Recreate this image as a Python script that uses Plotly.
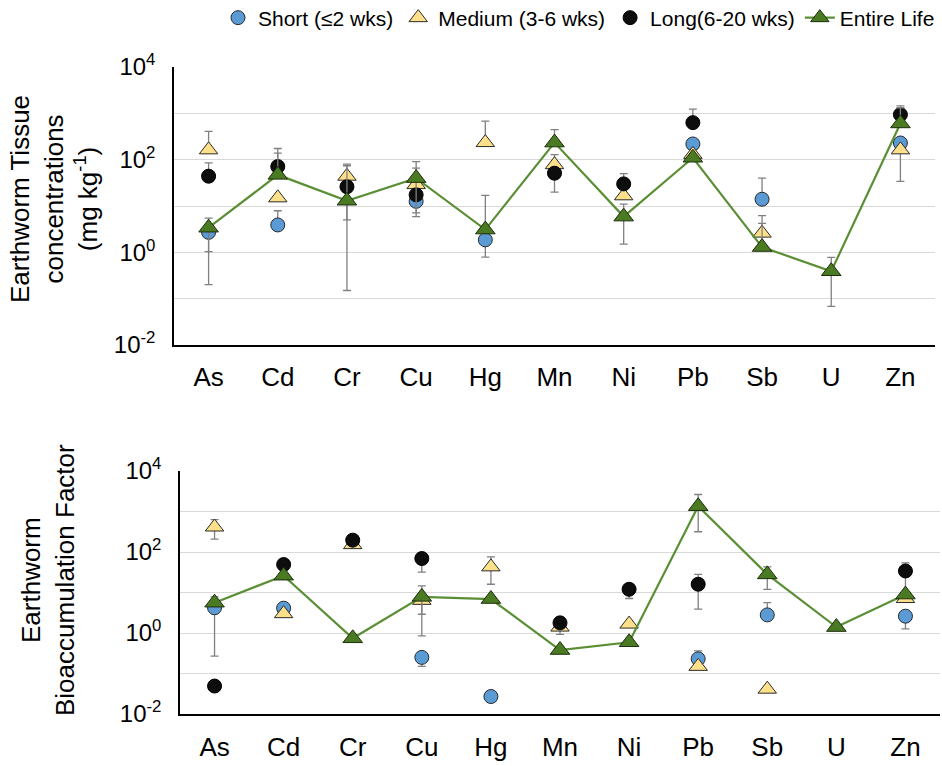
import plotly.graph_objects as go

elements = ["As", "Cd", "Cr", "Cu", "Hg", "Mn", "Ni", "Pb", "Sb", "U", "Zn"]
series_names = ["Short (≤2 wks)", "Medium (3-6 wks)", "Long(6-20 wks)", "Entire Life"]

# ---- Top panel: earthworm tissue concentrations (mg kg-1) ----
tissue_short = [2.7, 3.9, None, 12.6, 1.86, None, None, 218, 14, None, 229]
tissue_medium = [163, 15, 44, 29, 234, 78, 16.6, 130, 2.6, None, 163]
tissue_long = [44, 71, 26, 17.4, None, 51, 30, 630, None, None, 940]
tissue_entire = [3.4, 47, 13, 40, 3.1, 234, 5.9, 110, 1.3, 0.39, 605]
# error-bar upper / lower ends (None = no bar on that side)
tissue_short_hi = [None, 7.9, None, None, None, None, None, None, 40, None, None]
tissue_short_lo = [1.04, None, None, None, 0.79, None, None, None, None, None, None]
tissue_medium_hi = [407, None, 74, 66, 676, 129, None, None, 6.2, None, None]
tissue_medium_lo = [None, None, None, 7.1, None, None, None, None, None, None, 34]
tissue_long_hi = [85, 174, None, None, None, None, 50, 1230, None, None, 1445]
tissue_long_lo = [None, None, 5, None, None, 20, None, None, None, None, None]
tissue_entire_hi = [5.5, 138, 80, 91, 17, 447, 11, None, 4.2, 0.78, 1320]
tissue_entire_lo = [0.2, None, 0.15, 5.9, None, None, 1.5, None, None, 0.068, None]

# ---- Bottom panel: bioaccumulation factor ----
baf_short = [4.2, 4.1, None, 0.25, 0.027, None, None, 0.23, 2.8, None, 2.6]
baf_medium = [414, 3.0, 152, 6.4, 43, 1.4, 1.66, 0.15, 0.041, None, 7.1]
baf_long = [0.049, 49, 196, 69, None, 1.78, 12, 16, None, None, 34]
baf_entire = [5.6, 26, 0.74, 7.8, 6.9, 0.38, 0.59, 1350, 28, 1.4, 8.9]
baf_short_hi = [7.8, None, None, None, None, None, None, 0.36, 5.6, None, None]
baf_short_lo = [0.27, None, None, 0.15, None, None, None, None, None, None, 1.26]
baf_medium_hi = [631, None, None, None, 76, None, None, None, None, None, None]
baf_medium_lo = [209, None, None, 2.9, 16, 0.93, None, None, None, None, None]
baf_long_hi = [None, None, 270, None, None, 2.5, None, 28, None, None, 54]
baf_long_lo = [None, None, None, 32, None, None, 7.1, 3.9, None, None, 9]
baf_entire_hi = [None, None, None, 14.5, None, None, None, 2630, 43, None, None]
baf_entire_lo = [None, None, None, 0.85, None, None, None, 316, 12, None, None]

tick_vals = [0.01, 0.1, 1, 10, 100, 1000, 10000]
tick_text = ["10<sup>-2</sup>", "", "10<sup>0</sup>", "", "10<sup>2</sup>", "", "10<sup>4</sup>"]

FONT = "Arial, Liberation Sans, sans-serif"
ERR_COLOR = "#808080"


def err(vals, hi, lo):
    plus = [(h - v) if (h is not None and v is not None) else 0 for v, h in zip(vals, hi)]
    minus = [(v - l) if (l is not None and v is not None) else 0 for v, l in zip(vals, lo)]
    return dict(type="data", symmetric=False, array=plus, arrayminus=minus,
                color=ERR_COLOR, thickness=1.3, width=4, visible=True)


styles = [
    dict(mode="markers", marker=dict(symbol="circle", size=14, color="#5b9bd5",
                                     line=dict(color="#2a2a2a", width=1))),
    dict(mode="markers", marker=dict(symbol="triangle-up", size=16, color="#ffe08a",
                                     line=dict(color="#2a2a2a", width=1))),
    dict(mode="markers", marker=dict(symbol="circle", size=14, color="#0d0d0d",
                                     line=dict(color="#000000", width=1))),
    dict(mode="lines+markers", line=dict(color="#5b8f35", width=2.2),
         marker=dict(symbol="triangle-up", size=17, color="#4a7a22",
                     line=dict(color="#1e2e10", width=1))),
]

fig = go.Figure()

top = [(tissue_short, tissue_short_hi, tissue_short_lo),
       (tissue_medium, tissue_medium_hi, tissue_medium_lo),
       (tissue_long, tissue_long_hi, tissue_long_lo),
       (tissue_entire, tissue_entire_hi, tissue_entire_lo)]
bottom = [(baf_short, baf_short_hi, baf_short_lo),
          (baf_medium, baf_medium_hi, baf_medium_lo),
          (baf_long, baf_long_hi, baf_long_lo),
          (baf_entire, baf_entire_hi, baf_entire_lo)]

for i, (vals, hi, lo) in enumerate(top):
    fig.add_trace(go.Scatter(x=elements, y=vals, name=series_names[i], error_y=err(vals, hi, lo),
                             xaxis="x", yaxis="y", showlegend=True, connectgaps=False, **styles[i]))
for i, (vals, hi, lo) in enumerate(bottom):
    fig.add_trace(go.Scatter(x=elements, y=vals, name=series_names[i], error_y=err(vals, hi, lo),
                             xaxis="x2", yaxis="y2", showlegend=False, connectgaps=False, **styles[i]))

W, H = 942, 766


def xd(a, b):
    return [a / W, b / W]


def yd(top_px, bottom_px):
    return [1 - bottom_px / H, 1 - top_px / H]


xaxis_common = dict(type="category", range=[-0.5, 10.5], showline=True, linecolor="#000000",
                    linewidth=1.5, showgrid=False, ticks="outside", tickcolor="rgba(0,0,0,0)",
                    tickfont=dict(family=FONT, size=26, color="#000000"), zeroline=False)
yaxis_common = dict(type="log", range=[-2, 4], tickvals=tick_vals, ticktext=tick_text,
                    showline=True, linecolor="#000000", linewidth=1.5, showgrid=True,
                    gridcolor="#d9d9d9", gridwidth=1.2, ticks="outside", ticklen=12,
                    tickcolor="rgba(0,0,0,0)", tickfont=dict(family=FONT, size=24, color="#000000"),
                    zeroline=False)

fig.update_layout(
    width=W, height=H,
    margin=dict(l=0, r=0, t=0, b=0, autoexpand=False),
    paper_bgcolor="white", plot_bgcolor="white",
    font=dict(family=FONT, color="#000000"),
    xaxis=dict(domain=xd(174, 935), anchor="y", ticklen=8, **xaxis_common),
    yaxis=dict(domain=yd(67, 345), anchor="x", **yaxis_common),
    xaxis2=dict(domain=xd(180, 940), anchor="y2", ticklen=9, **xaxis_common),
    yaxis2=dict(domain=yd(471, 714), anchor="x2", **yaxis_common),
    legend=dict(orientation="h", x=940 / W, xanchor="right", y=1 - 18 / H, yanchor="middle",
                font=dict(family=FONT, size=21, color="#000000"), bgcolor="rgba(0,0,0,0)",
                itemwidth=30, tracegroupgap=0),
    annotations=[
        dict(text="Earthworm Tissue<br>concentrations<br>(mg kg<sup>-1</sup>)", xref="paper", yref="paper",
             x=54 / W, y=1 - 199 / H, textangle=-90, showarrow=False, xanchor="center", yanchor="middle",
             font=dict(family=FONT, size=26, color="#000000")),
        dict(text="Earthworm<br>Bioaccumulation Factor", xref="paper", yref="paper",
             x=48 / W, y=1 - 580 / H, textangle=-90, showarrow=False, xanchor="center", yanchor="middle",
             font=dict(family=FONT, size=26, color="#000000")),
    ],
)

fig.write_html("out.html", config={"displayModeBar": False},
               post_script="document.body.style.margin='0px';document.body.style.padding='0px';")
